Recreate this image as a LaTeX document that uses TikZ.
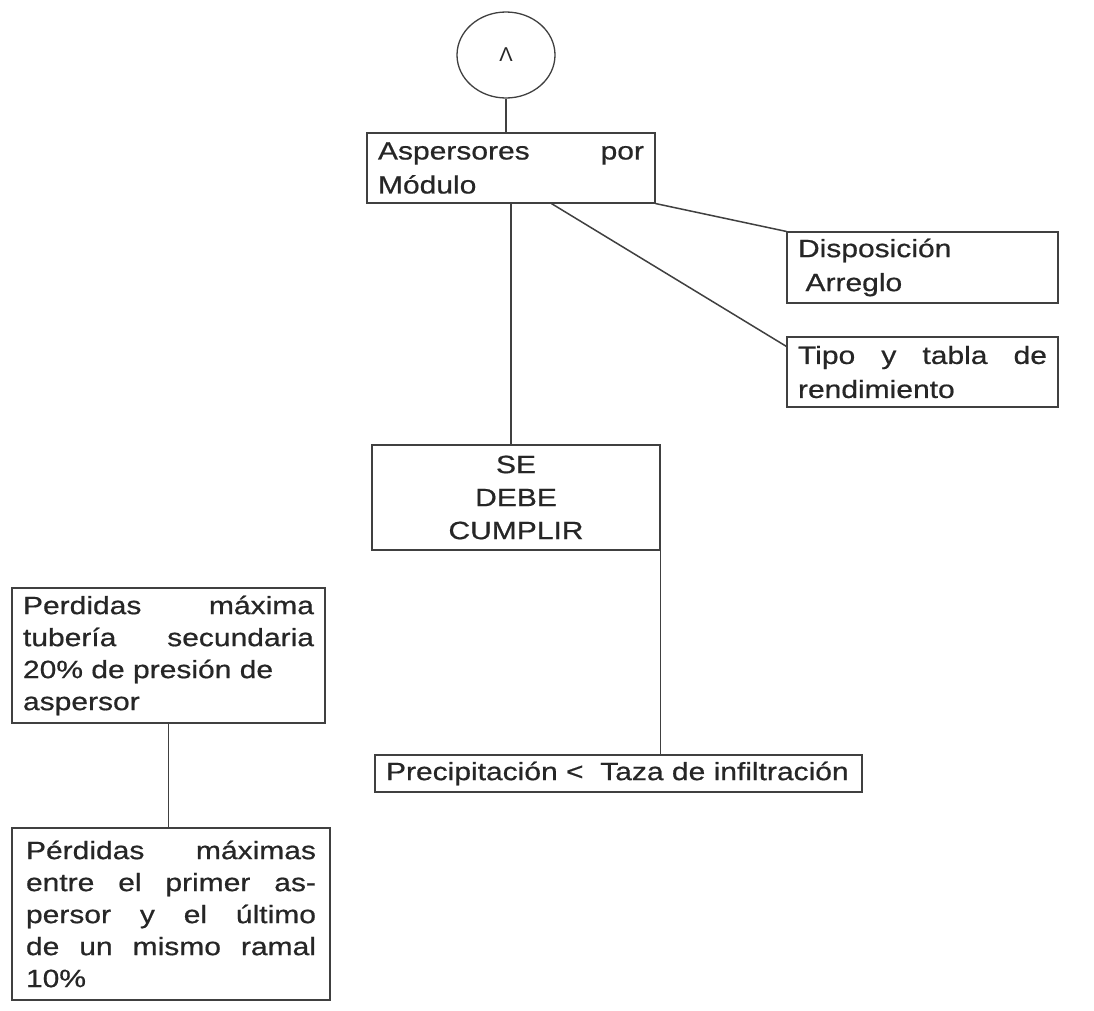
\documentclass[tikz,border=0pt]{standalone}
\usepackage{fontspec}
\setmainfont[FakeStretch=1.2,FakeBold=0.6]{Liberation Sans}
\newfontfamily\symfont{Liberation Sans}
\usetikzlibrary{shapes.geometric,calc}
\definecolor{ink}{HTML}{262626}
\definecolor{edge}{HTML}{404040}
\begin{document}
\begin{tikzpicture}[x=1pt,y=-1pt,
  box/.style={draw=edge, line width=1.1pt, rectangle, inner sep=0pt, text=ink,
    align=left, font=\fontsize{25}{34}\selectfont},
  link/.style={draw=edge, line width=1.5pt}]
\path[use as bounding box, fill=white] (0,0) rectangle (1094,1010);

\node[draw=edge, line width=1.3pt, ellipse, minimum width=98, minimum height=86,
  inner sep=0pt, text=ink, font=\symfont\fontsize{20}{20}\selectfont] (top) at (506,55) {Λ};

\node[box, minimum width=288, minimum height=70, text width=266] (asp) at (511,168)
  {Aspersores\hfill por\\Módulo};
\node[box, minimum width=271, minimum height=71, text width=249] (disp) at (922.5,267.5)
  {Disposición\\\hspace{0.3em}Arreglo};
\node[box, minimum width=271, minimum height=70, text width=249] (tipo) at (922.5,372)
  {Tipo\hfill y\hfill tabla\hfill de\\rendimiento};
\node[box, align=center, minimum width=288, minimum height=105, text width=266,
  font=\fontsize{25}{33}\selectfont] (se) at (516,497.5)
  {SE\\DEBE\\CUMPLIR};
\node[box, minimum width=487, minimum height=37, text width=465] (prec) at (618.5,773.5)
  {\mbox{Precipitación <\ \ Taza de infiltración}};
\node[box, minimum width=313, minimum height=135, text width=291,
  font=\fontsize{25}{32}\selectfont] (perd1) at (168.5,655.5)
  {Perdidas\hfill máxima\\tubería\hfill secundaria\\20\% de presión de\\aspersor};
\node[box, minimum width=318, minimum height=172, text width=290,
  font=\fontsize{25}{32}\selectfont] (perd2) at (171,914)
  {Pérdidas\hfill máximas\\entre\hfill el\hfill primer\hfill as-\\persor\hfill y\hfill el\hfill último\\de\hfill un\hfill mismo\hfill ramal\\10\%};

\coordinate (aspfoot) at ($(asp.south west)+(185,0)$);
\draw[link] (top.south) -- (top.south |- asp.north);
\draw[link] (asp.south) -- (asp.south |- se.north);
\draw[link] (asp.south east) -- (disp.north west);
\draw[link] (aspfoot) -- ($(tipo.north west)+(0,10)$);
\draw[link] (se.south east) -- (se.south east |- prec.north);
\draw[link] (perd1.south) -- (perd1.south |- perd2.north);
\end{tikzpicture}
\end{document}
